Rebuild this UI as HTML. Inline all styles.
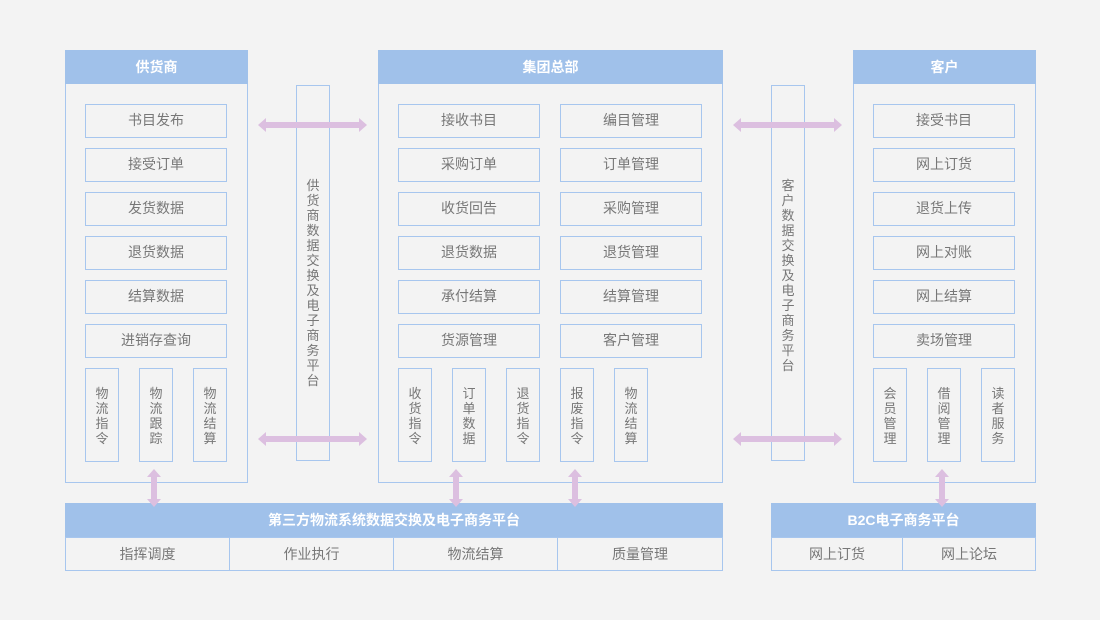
<!DOCTYPE html>
<html><head><meta charset="utf-8"><style>
body{margin:0;width:1100px;height:620px;background:#f3f3f3;position:relative;overflow:hidden;font-family:"Liberation Sans","Noto Sans CJK SC",sans-serif;}
div{position:absolute;box-sizing:border-box;}
.p{border:1px solid #a7c6ee;}
.h{background:#a0c1ea;color:#fff;font-weight:bold;font-size:14px;text-align:center;line-height:34px;}
.b{border:1px solid #a7c6ee;color:#777;font-size:14px;text-align:center;line-height:31px;height:34px;}
.v{border:1px solid #a7c6ee;color:#777;font-size:13px;text-align:center;line-height:15px;width:34px;height:94px;padding-top:17px;}
.s{border:1px solid #a7c6ee;color:#777;font-size:13px;text-align:center;line-height:15px;width:34px;padding-top:92px;}
.c{color:#777;font-size:14px;text-align:center;line-height:33px;height:34px;top:537px;border:1px solid #a7c6ee;}
</style></head><body>
<!-- supplier -->
<div class="p" style="left:65px;top:50px;width:183px;height:433px"></div>
<div class="h" style="left:65px;top:50px;width:183px;height:34px">供货商</div>
<div class="b" style="left:85px;top:104px;width:142px">书目发布</div>
<div class="b" style="left:85px;top:148px;width:142px">接受订单</div>
<div class="b" style="left:85px;top:192px;width:142px">发货数据</div>
<div class="b" style="left:85px;top:236px;width:142px">退货数据</div>
<div class="b" style="left:85px;top:280px;width:142px">结算数据</div>
<div class="b" style="left:85px;top:324px;width:142px">进销存查询</div>
<div class="v" style="left:85px;top:368px">物<br>流<br>指<br>令</div>
<div class="v" style="left:139px;top:368px">物<br>流<br>跟<br>踪</div>
<div class="v" style="left:193px;top:368px">物<br>流<br>结<br>算</div>
<!-- strip 1 -->
<div class="s" style="left:296px;top:85px;height:376px">供<br>货<br>商<br>数<br>据<br>交<br>换<br>及<br>电<br>子<br>商<br>务<br>平<br>台</div>
<!-- center -->
<div class="p" style="left:378px;top:50px;width:345px;height:433px"></div>
<div class="h" style="left:378px;top:50px;width:345px;height:34px">集团总部</div>
<div class="b" style="left:398px;top:104px;width:142px">接收书目</div>
<div class="b" style="left:398px;top:148px;width:142px">采购订单</div>
<div class="b" style="left:398px;top:192px;width:142px">收货回告</div>
<div class="b" style="left:398px;top:236px;width:142px">退货数据</div>
<div class="b" style="left:398px;top:280px;width:142px">承付结算</div>
<div class="b" style="left:398px;top:324px;width:142px">货源管理</div>
<div class="b" style="left:560px;top:104px;width:142px">编目管理</div>
<div class="b" style="left:560px;top:148px;width:142px">订单管理</div>
<div class="b" style="left:560px;top:192px;width:142px">采购管理</div>
<div class="b" style="left:560px;top:236px;width:142px">退货管理</div>
<div class="b" style="left:560px;top:280px;width:142px">结算管理</div>
<div class="b" style="left:560px;top:324px;width:142px">客户管理</div>
<div class="v" style="left:398px;top:368px">收<br>货<br>指<br>令</div>
<div class="v" style="left:452px;top:368px">订<br>单<br>数<br>据</div>
<div class="v" style="left:506px;top:368px">退<br>货<br>指<br>令</div>
<div class="v" style="left:560px;top:368px">报<br>废<br>指<br>令</div>
<div class="v" style="left:614px;top:368px">物<br>流<br>结<br>算</div>
<!-- strip 2 -->
<div class="s" style="left:771px;top:85px;height:376px">客<br>户<br>数<br>据<br>交<br>换<br>及<br>电<br>子<br>商<br>务<br>平<br>台</div>
<!-- customer -->
<div class="p" style="left:853px;top:50px;width:183px;height:433px"></div>
<div class="h" style="left:853px;top:50px;width:183px;height:34px">客户</div>
<div class="b" style="left:873px;top:104px;width:142px">接受书目</div>
<div class="b" style="left:873px;top:148px;width:142px">网上订货</div>
<div class="b" style="left:873px;top:192px;width:142px">退货上传</div>
<div class="b" style="left:873px;top:236px;width:142px">网上对账</div>
<div class="b" style="left:873px;top:280px;width:142px">网上结算</div>
<div class="b" style="left:873px;top:324px;width:142px">卖场管理</div>
<div class="v" style="left:873px;top:368px">会<br>员<br>管<br>理</div>
<div class="v" style="left:927px;top:368px">借<br>阅<br>管<br>理</div>
<div class="v" style="left:981px;top:368px">读<br>者<br>服<br>务</div>
<!-- bottom -->
<div class="h" style="left:65px;top:503px;width:658px;height:34px">第三方物流系统数据交换及电子商务平台</div>
<div class="c" style="left:65px;width:165px">指挥调度</div>
<div class="c" style="left:229px;width:165px">作业执行</div>
<div class="c" style="left:393px;width:165px">物流结算</div>
<div class="c" style="left:557px;width:166px">质量管理</div>
<div class="h" style="left:771px;top:503px;width:265px;height:34px">B2C电子商务平台</div>
<div class="c" style="left:771px;width:132px">网上订货</div>
<div class="c" style="left:902px;width:134px">网上论坛</div>
<svg width="1100" height="620" style="position:absolute;left:0;top:0" fill="#dcbfe0">
<g id="h"><polygon points="258,125 266,118 266,122 359,122 359,118 367,125 359,132 359,128 266,128 266,132"/></g>
<use href="#h" y="314"/><use href="#h" x="475"/><use href="#h" x="475" y="314"/>
<g id="vv"><polygon points="154,469 161,477 157,477 157,499 161,499 154,507 147,499 151,499 151,477 147,477"/></g>
<use href="#vv" x="302"/><use href="#vv" x="421"/><use href="#vv" x="788"/>
</svg>
</body></html>
